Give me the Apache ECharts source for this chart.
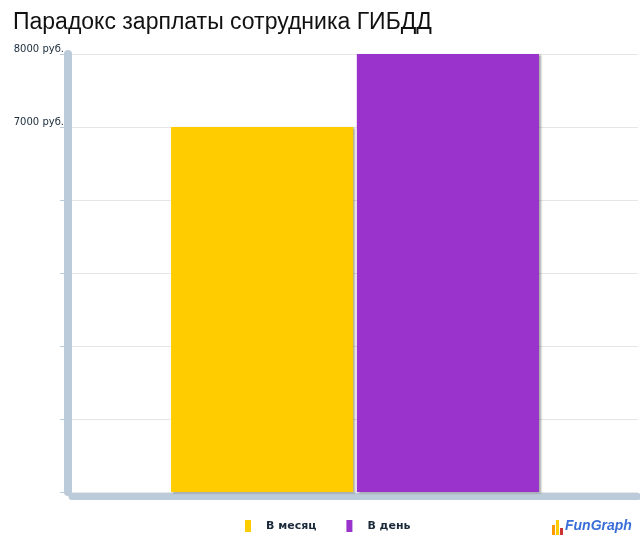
<!DOCTYPE html>
<html><head><meta charset="utf-8">
<script src="https://cdn.jsdelivr.net/npm/echarts@6/dist/echarts.min.js"></script>
<style>html,body{margin:0;padding:0;background:#fff}#c{width:640px;height:545px}</style>
</head><body><div id="c"></div>
<script>
var categories = [''];
var seriesNames = ['В месяц', 'В день'];
var monthValues = [7000];
var dayValues = [8000];
var shownTicks = [7000, 8000];
var chart = echarts.init(document.getElementById('c'));
var shadow = {shadowColor:'rgba(0,0,0,0.35)', shadowBlur:2, shadowOffsetX:2, shadowOffsetY:1};
chart.setOption({
  animation:false,
  title:{text:'Парадокс зарплаты сотрудника ГИБДД', left:8, top:6,
    textStyle:{fontFamily:'Liberation Sans, Arial', fontSize:23, fontWeight:'normal', color:'#111'}},
  grid:{left:72, right:2, top:54, bottom:53},
  legend:{bottom:8, left:240, itemWidth:6, itemHeight:12, itemGap:30, icon:'rect',
    textStyle:{fontFamily:'DejaVu Sans', fontSize:11, fontWeight:'bold', color:'#1a2a3a', padding:[0,0,0,10]}},
  xAxis:{type:'category', data:categories,
    axisLine:{show:true, onZero:false, lineStyle:{color:'#bccbd9', width:7}}, offset:4,
    axisTick:{show:false}, axisLabel:{show:false}},
  yAxis:{type:'value', min:2000, max:8000, interval:1000, offset:4,
    axisLine:{show:true, lineStyle:{color:'#bccbd9', width:8}},
    axisTick:{show:true, length:8, lineStyle:{color:'#bccbd9'}},
    axisLabel:{margin:4, fontFamily:'DejaVu Sans', fontSize:10, color:'#1a2a3a', verticalAlign:'bottom',
      formatter:function(v){return shownTicks.indexOf(v)>=0 ? v+' руб.' : '';}},
    splitLine:{lineStyle:{color:'#e6e6e6'}}},
  series:[
    {name:seriesNames[0], type:'bar', data:monthValues, barGap:'2%', barCategoryGap:'35%',
      itemStyle:Object.assign({color:'#ffcc00'}, shadow)},
    {name:seriesNames[1], type:'bar', data:dayValues,
      itemStyle:Object.assign({color:'#9933cc'}, shadow)}
  ],
  graphic:[
    {type:'rect', shape:{x:552,y:525,width:3,height:10}, style:{fill:'#ff9900'}},
    {type:'rect', shape:{x:556,y:520,width:3,height:15}, style:{fill:'#ffcc00'}},
    {type:'rect', shape:{x:560,y:528,width:3,height:7}, style:{fill:'#cc3333'}},
    {type:'text', left:565, top:519, style:{text:'FunGraph', font:'bold italic 14px Liberation Sans', fill:'#3a6ed8'}}
  ]
});
</script></body></html>
